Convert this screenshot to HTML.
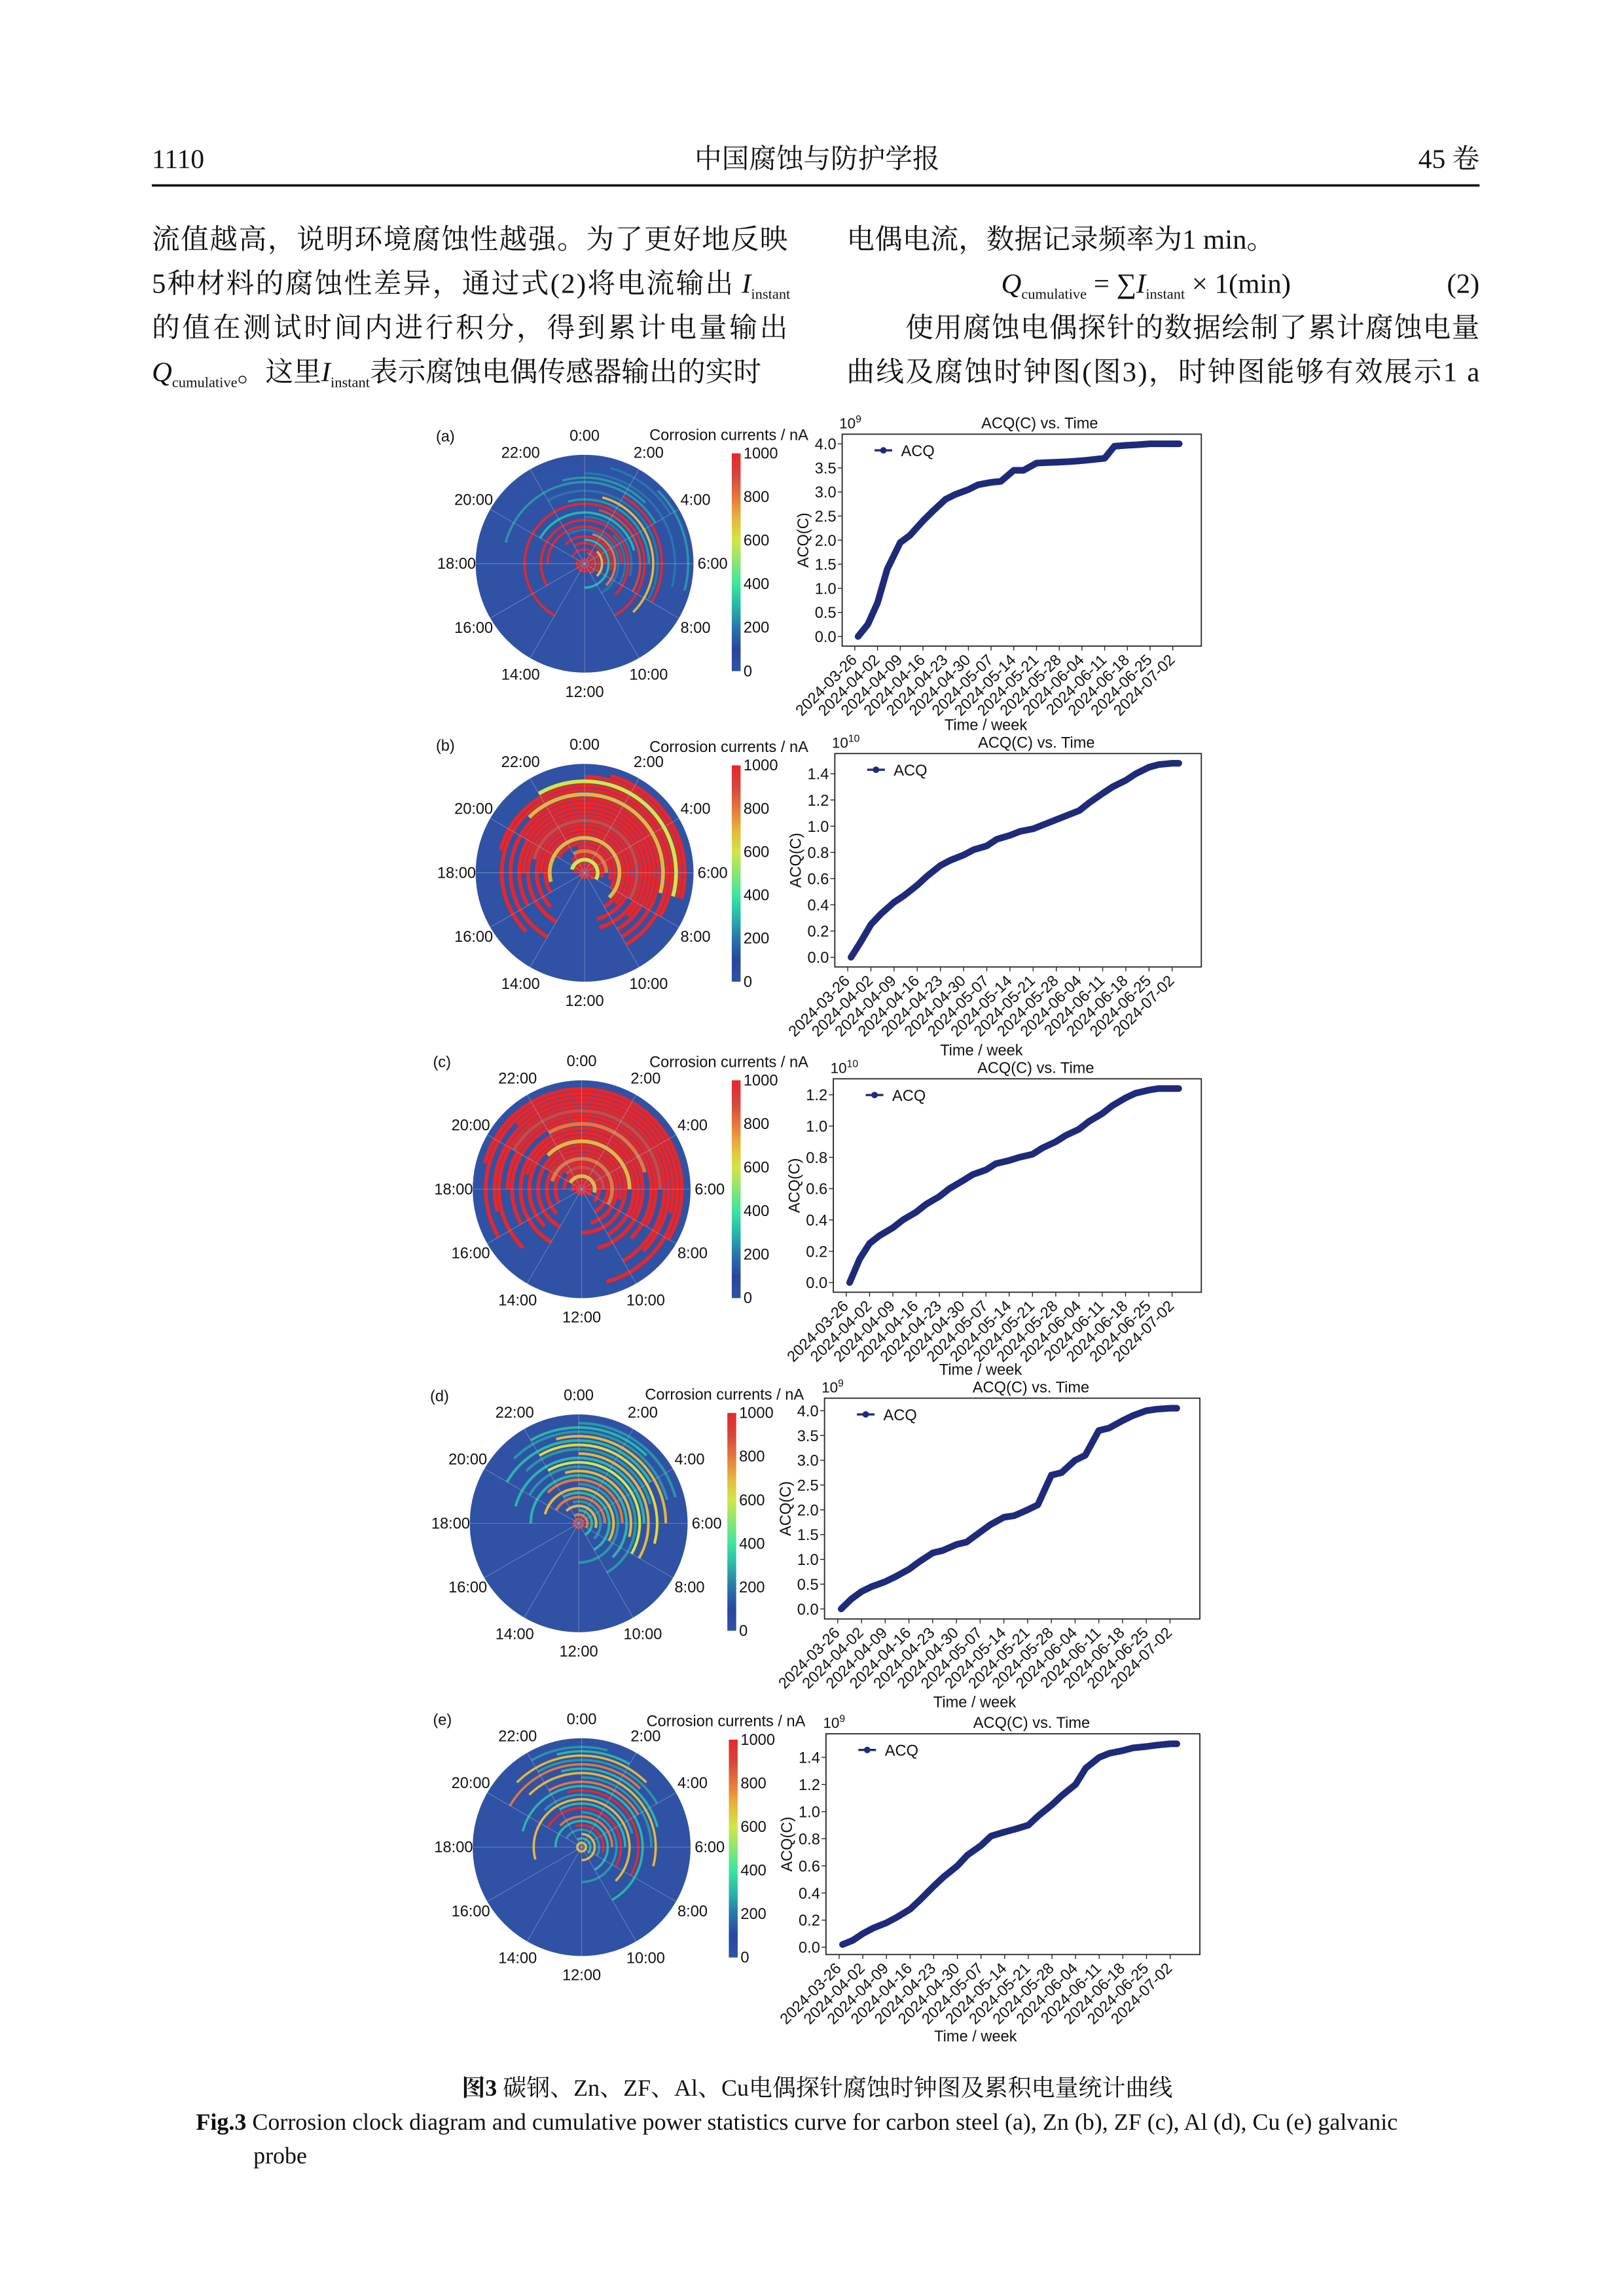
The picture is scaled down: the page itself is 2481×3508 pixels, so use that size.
<!DOCTYPE html>
<html><head><meta charset="utf-8"><title>Fig.3</title>
<style>
html,body{margin:0;padding:0;background:#fff}
svg{display:block}
.serif{font-family:"Liberation Serif","Noto Serif CJK SC",serif;fill:#111}
.sans{font-family:"Liberation Sans","Noto Sans CJK SC",sans-serif;fill:#111}
</style></head>
<body>
<svg id="page" width="2481" height="3508" viewBox="0 0 1103 1560" xmlns="http://www.w3.org/2000/svg">
<g>
<text class="serif" x="103" y="114" font-size="18.5">1110</text>
<text class="serif" x="555" y="114" font-size="18.5" text-anchor="middle">中国腐蚀与防护学报</text>
<text class="serif" x="1005" y="114" font-size="18.5" text-anchor="end">45 卷</text>
<line x1="103" y1="126" x2="1005" y2="126" stroke="#111" stroke-width="1.6"/>
</g>
<g class="serif" font-size="19">
<text x="103" y="169" textLength="432" lengthAdjust="spacing">流值越高，说明环境腐蚀性越强。为了更好地反映</text>
<text x="103" y="199"><tspan textLength="395" lengthAdjust="spacing">5种材料的腐蚀性差异，通过式(2)将电流输出</tspan><tspan font-style="italic"> I</tspan><tspan font-size="10" dy="4">instant</tspan></text>
<text x="103" y="229" textLength="432" lengthAdjust="spacing">的值在测试时间内进行积分，得到累计电量输出</text>
<text x="103" y="259"><tspan font-style="italic">Q</tspan><tspan font-size="10" dy="4">cumulative</tspan><tspan dy="-4">。这里</tspan><tspan font-style="italic">I</tspan><tspan font-size="10" dy="4">instant</tspan><tspan dy="-4">表示腐蚀电偶传感器输出的实时</tspan></text>
<text x="575" y="169">电偶电流，数据记录频率为1 min。</text>
<text x="680" y="199"><tspan font-style="italic">Q</tspan><tspan font-size="10" dy="4">cumulative</tspan><tspan dy="-4"> = ∑</tspan><tspan font-style="italic">I</tspan><tspan font-size="10" dy="4">instant</tspan><tspan dy="-4"> × 1(min)</tspan></text>
<text x="1005" y="199" text-anchor="end">(2)</text>
<text x="615" y="229" textLength="390" lengthAdjust="spacing">使用腐蚀电偶探针的数据绘制了累计腐蚀电量</text>
<text x="575" y="259" textLength="430" lengthAdjust="spacing">曲线及腐蚀时钟图(图3)，时钟图能够有效展示1 a</text>
</g>
<g id="figs"></g>
<g class="serif" font-size="16">
<text x="555" y="1424" text-anchor="middle"><tspan font-weight="bold">图3</tspan> 碳钢、Zn、ZF、Al、Cu电偶探针腐蚀时钟图及累积电量统计曲线</text>
<text x="133" y="1447"><tspan font-weight="bold">Fig.3</tspan> Corrosion clock diagram and cumulative power statistics curve for carbon steel (a), Zn (b), ZF (c), Al (d), Cu (e) galvanic</text>
<text x="172" y="1470">probe</text>
</g>
</svg>
<script>
// ---- chart data ----
const dateLabels = ["2024-03-26","2024-04-02","2024-04-09","2024-04-16","2024-04-23","2024-04-30","2024-05-07","2024-05-14","2024-05-21","2024-05-28","2024-06-04","2024-06-11","2024-06-18","2024-06-25","2024-07-02"];
const sampleDays = [1,4,7,10,14,17,21,24,28,31,35,38,42,45,49,52,56,59,63,66,70,73,77,80,84,87,91,94,98,100];
const acqA = [0.0,0.25,0.7,1.4,1.95,2.1,2.4,2.6,2.85,2.95,3.05,3.15,3.2,3.22,3.45,3.45,3.6,3.61,3.62,3.63,3.65,3.67,3.7,3.95,3.97,3.98,4.0,4.0,4.0,4.0];
const acqB = [0.0,0.12,0.25,0.33,0.42,0.47,0.55,0.62,0.7,0.74,0.78,0.82,0.85,0.9,0.93,0.96,0.98,1.01,1.05,1.08,1.12,1.18,1.25,1.3,1.35,1.4,1.45,1.47,1.48,1.48];
const acqC = [0.0,0.15,0.25,0.3,0.35,0.4,0.45,0.5,0.55,0.6,0.65,0.69,0.72,0.76,0.78,0.8,0.82,0.86,0.9,0.94,0.98,1.03,1.08,1.13,1.18,1.21,1.23,1.24,1.24,1.24];
const acqD = [0.0,0.2,0.35,0.45,0.55,0.65,0.8,0.95,1.13,1.18,1.3,1.35,1.55,1.7,1.85,1.88,2.0,2.1,2.7,2.75,3.0,3.1,3.6,3.65,3.8,3.9,4.0,4.03,4.05,4.05];
const acqE = [0.02,0.05,0.1,0.14,0.18,0.22,0.28,0.35,0.45,0.52,0.6,0.68,0.75,0.82,0.85,0.87,0.9,0.97,1.05,1.12,1.2,1.32,1.4,1.43,1.45,1.47,1.48,1.49,1.5,1.5];
const yTicksA = [0,0.5,1.0,1.5,2.0,2.5,3.0,3.5,4.0];
const yTicks14 = [0,0.2,0.4,0.6,0.8,1.0,1.2,1.4];
const yTicks12 = [0,0.2,0.4,0.6,0.8,1.0,1.2];
const cbTicks = [0,200,400,600,800,1000];
const clockLabels = ["0:00","2:00","4:00","6:00","8:00","10:00","12:00","14:00","16:00","18:00","20:00","22:00"];
// clock arcs: [radius fraction, start hour, end hour, current nA]
const arcsA = [[0.04,0,24,1000],[0.07,2,20,1000],[0.1,1,10,900],[0.13,20,8,1000],[0.16,3,9,700],[0.19,22,6,1000],[0.22,0,12,300],[0.25,21,7,1000],[0.28,1,9,800],[0.31,22,10,200],[0.34,18,6,1000],[0.37,3,8,200],[0.4,16,9,1000],[0.43,0,7,200],[0.47,20,5,300],[0.51,1,8,900],[0.55,14,10,1000],[0.59,23,6,250],[0.63,1,9,700],[0.67,22,8,200],[0.71,2,8,1000],[0.75,19,4,250],[0.79,23,3,250],[0.83,0,7,200],[0.87,21,5,150],[0.91,1,4,200],[0.95,3,7,250]];
const arcsB = [[0.04,0,24,1000],[0.08,18,9,1000],[0.12,19,8,600],[0.16,21,7,1000],[0.2,22,6,800],[0.24,23,7,1000],[0.28,20,8,1000],[0.32,17,9,700],[0.36,16,10,1000],[0.4,18,9,1000],[0.44,15,11,1000],[0.48,19,8,900],[0.52,14,11,1000],[0.56,18,9,1000],[0.6,16,10,1000],[0.64,20,8,1000],[0.68,14,10,1000],[0.72,21,7,700],[0.76,15,10,1000],[0.8,19,8,1000],[0.84,22,7,600],[0.88,0,7,1000],[0.92,1,7,1000]];
const arcsC = [[0.04,0,24,1000],[0.08,17,9,1000],[0.12,20,7,700],[0.16,18,9,1000],[0.2,21,6,900],[0.24,16,10,1000],[0.28,19,8,800],[0.32,15,11,1000],[0.36,20,7,1000],[0.4,14,12,1000],[0.44,21,6,700],[0.48,15,10,1000],[0.52,19,8,1000],[0.56,14,11,1000],[0.6,22,5,800],[0.64,16,9,1000],[0.68,18,8,1000],[0.72,20,6,900],[0.76,15,10,1000],[0.8,17,9,1000],[0.84,21,7,1000],[0.88,16,11,1000],[0.92,19,8,1000]];
const arcsD = [[0.04,0,24,900],[0.08,22,8,800],[0.12,0,10,300],[0.16,21,7,700],[0.2,23,9,250],[0.24,20,6,800],[0.28,22,10,300],[0.32,19,8,700],[0.36,0,12,250],[0.4,21,6,800],[0.44,18,9,300],[0.48,23,7,700],[0.52,20,10,250],[0.56,22,8,600],[0.6,19,6,300],[0.64,0,8,700],[0.68,21,5,250],[0.72,22,7,650],[0.76,20,4,300],[0.8,23,6,700],[0.84,21,5,250],[0.88,22,3,300],[0.92,0,5,250]];
const arcsE = [[0.04,0,24,700],[0.08,22,9,300],[0.12,0,12,700],[0.16,20,8,250],[0.2,23,7,1000],[0.24,18,10,300],[0.28,21,6,800],[0.32,0,12,250],[0.36,20,8,1000],[0.4,22,6,300],[0.44,17,9,700],[0.48,21,5,250],[0.52,23,8,1000],[0.56,19,10,300],[0.6,22,4,800],[0.64,0,6,250],[0.68,21,7,700],[0.72,23,5,300],[0.76,20,3,800],[0.8,22,4,250],[0.84,21,3,700],[0.88,23,2,300],[0.92,22,1,250]];
const panels = [
 {id:"a",cx:397,cy:383,r:74,cbx:497,cbt:308,cbb:456,bx:572,bt:295,bw:244,bh:144,vals:acqA,ticks:yTicksA,exp:"9",arcs:arcsA,tw:492,sw:1.6},
 {id:"b",cx:397,cy:593,r:74,cbx:497,cbt:520,cbb:667,bx:567,bt:512,bw:249,bh:145,vals:acqB,ticks:yTicks14,exp:"10",arcs:arcsB,tw:713,sw:2.6},
 {id:"c",cx:395,cy:808,r:74,cbx:497,cbt:734,cbb:882,bx:566,bt:733,bw:250,bh:145,vals:acqC,ticks:yTicks12,exp:"10",arcs:arcsC,tw:930,sw:2.6},
 {id:"d",cx:393,cy:1035,r:74,cbx:494,cbt:960,cbb:1108,bx:560,bt:950,bw:255,bh:150,vals:acqD,ticks:yTicksA,exp:"9",arcs:arcsD,tw:1156,sw:1.8},
 {id:"e",cx:395,cy:1255,r:74,cbx:495,cbt:1182,cbb:1330,bx:561,bt:1178,bw:254,bh:150,vals:acqE,ticks:yTicks14,exp:"9",arcs:arcsE,tw:1383,sw:1.6}
];
const NS="http://www.w3.org/2000/svg";
function mk(tag,attrs,parent){const e=document.createElementNS(NS,tag);for(const k in attrs)e.setAttribute(k,attrs[k]);if(parent)parent.appendChild(e);return e;}
function jet(v){const t=Math.max(0,Math.min(1,v/1000));
 const r=Math.max(0,Math.min(1,1.5-Math.abs(4*t-3))),g=Math.max(0,Math.min(1,1.5-Math.abs(4*t-2))),b=Math.max(0,Math.min(1,1.5-Math.abs(4*t-1)));
 const R=Math.round(40+r*190),G=Math.round(70+g*160),B=Math.round(60+b*110);
 if(t<0.05)return "#2f52a5"; if(t>0.95)return "#e8262a"; return `rgb(${R},${G},${B})`;}
const figs=document.getElementById('figs');
let grad=mk('defs',{},figs);
let lg=mk('linearGradient',{id:'jetgrad',x1:0,y1:1,x2:0,y2:0},grad);
[0,100,200,300,400,500,600,700,800,900,1000].forEach(v=>mk('stop',{offset:(v/10)+'%','stop-color':jet(v)},lg));
function pt(cx,cy,r,h){const a=h/24*2*Math.PI;return [cx+r*Math.sin(a),cy-r*Math.cos(a)];}
panels.forEach(p=>{
 const g=mk('g',{},figs);
 
 
 const lbl=mk('text',{x:p.cx-101,y:p.cy-83,'font-size':10.5,class:'sans'},g);lbl.textContent='('+p.id+')';
 
 
 const clk=mk('g',{},g);
 
 
 mk('circle',{cx:p.cx,cy:p.cy,r:p.r,fill:'#2f52a5'},clk);
 p.arcs.forEach(a=>{
  const rr=a[0]*p.r; let h0=a[1],h1=a[2]; let span=(h1-h0+24)%24; if(span===0)span=24;
  let el;
  if(span>=24){el=mk('circle',{cx:p.cx,cy:p.cy,r:rr,fill:'none',stroke:jet(a[3]),'stroke-width':p.sw},clk);}
  else{const s=pt(p.cx,p.cy,rr,h0),e=pt(p.cx,p.cy,rr,h0+span);
   el=mk('path',{d:`M${s[0]},${s[1]} A${rr},${rr} 0 ${span>12?1:0} 1 ${e[0]},${e[1]}`,fill:'none',stroke:jet(a[3]),'stroke-width':p.sw},clk);}
  
  
 });
 for(let i=0;i<12;i++){const e=pt(p.cx,p.cy,p.r,i*2);const ln=mk('line',{x1:p.cx,y1:p.cy,x2:e[0],y2:e[1],stroke:'#b8c0d8','stroke-width':0.4,opacity:0.5},clk);
  
  
  const l=pt(p.cx,p.cy,p.r+13,i*2);const t=mk('text',{x:l[0],y:l[1]+3.5,'font-size':10.5,'text-anchor':'middle',class:'sans'},g);t.textContent=clockLabels[i];
  
  }
 const cb=mk('g',{},g);
 
 
 mk('rect',{x:p.cbx,y:p.cbt,width:6,height:p.cbb-p.cbt,fill:'url(#jetgrad)'},cb);
 cbTicks.forEach(v=>{const y=p.cbb-(v/1000)*(p.cbb-p.cbt);const t=mk('text',{x:p.cbx+8,y:y+3.5,'font-size':10.5,class:'sans'},cb);t.textContent=v;
  
  });
 const ct=mk('text',{x:p.cbx+52,y:p.cbt-9,'font-size':10.5,'text-anchor':'end',class:'sans'},g);ct.textContent='Corrosion currents / nA';
 
 
 const ch=mk('g',{},g);
 
 
 const maxV=Math.max(...p.vals),minV=Math.min(...p.vals),rng=maxV-minV;
 const y0=minV-0.05*rng,y1=maxV+0.05*rng;
 const xs=d=>p.bx+(d+3.9)/110.7*p.bw, ys=v=>p.bt+p.bh-(v-y0)/(y1-y0)*p.bh;
 mk('rect',{x:p.bx,y:p.bt,width:p.bw,height:p.bh,fill:'#fff',stroke:'#222','stroke-width':0.8},ch);
 p.ticks.forEach(v=>{const y=ys(v);mk('line',{x1:p.bx-3,y1:y,x2:p.bx,y2:y,stroke:'#222','stroke-width':0.6},ch);
  const t=mk('text',{x:p.bx-4,y:y+3.8,'font-size':10.5,'text-anchor':'end',class:'sans'},ch);t.textContent=v.toFixed(1);
  
  });
 dateLabels.forEach((d,i)=>{const x=xs(i*7);mk('line',{x1:x,y1:p.bt+p.bh,x2:x,y2:p.bt+p.bh+3,stroke:'#222','stroke-width':0.6},ch);
  const t=mk('text',{x:x+2,y:p.bt+p.bh+10,'font-size':10.5,'text-anchor':'end',class:'sans',transform:`rotate(-45 ${x+2} ${p.bt+p.bh+10})`},ch);t.textContent=d;
  
  });
 const pts=p.vals.map((v,i)=>xs(sampleDays[i])+','+ys(v)).join(' ');
 const line=mk('polyline',{points:pts,fill:'none',stroke:'#1e2a7a','stroke-width':4.5,'stroke-linejoin':'round','stroke-linecap':'round'},ch);
 
 
 const lgd=mk('g',{},ch);
 
 
 mk('line',{x1:p.bx+22,y1:p.bt+11,x2:p.bx+34,y2:p.bt+11,stroke:'#1e2a7a','stroke-width':1.5},lgd);
 mk('circle',{cx:p.bx+28,cy:p.bt+11,r:2.2,fill:'#1e2a7a'},lgd);
 const lt=mk('text',{x:p.bx+40,y:p.bt+15,'font-size':10.5,class:'sans'},lgd);lt.textContent='ACQ';
 const tt=mk('text',{x:p.bx+p.bw*0.55,y:p.bt-4,'font-size':10.5,'text-anchor':'middle',class:'sans'},ch);tt.textContent='ACQ(C) vs. Time';
 
 
 const ex=mk('text',{x:p.bx-2,y:p.bt-4,'font-size':10,class:'sans'},ch);ex.innerHTML='10<tspan font-size="7" dy="-4">'+p.exp+'</tspan>';
 
 
 const yl=mk('text',{x:0,y:0,'font-size':10.5,'text-anchor':'middle',class:'sans',transform:`translate(${p.bx-23} ${p.bt+p.bh/2}) rotate(-90)`},ch);yl.textContent='ACQ(C)';
 
 
 const xl=mk('text',{x:p.bx+p.bw*0.4,y:p.tw+4,'font-size':10.5,'text-anchor':'middle',class:'sans'},ch);xl.textContent='Time / week';
 
 
});
</script>
</body></html>
